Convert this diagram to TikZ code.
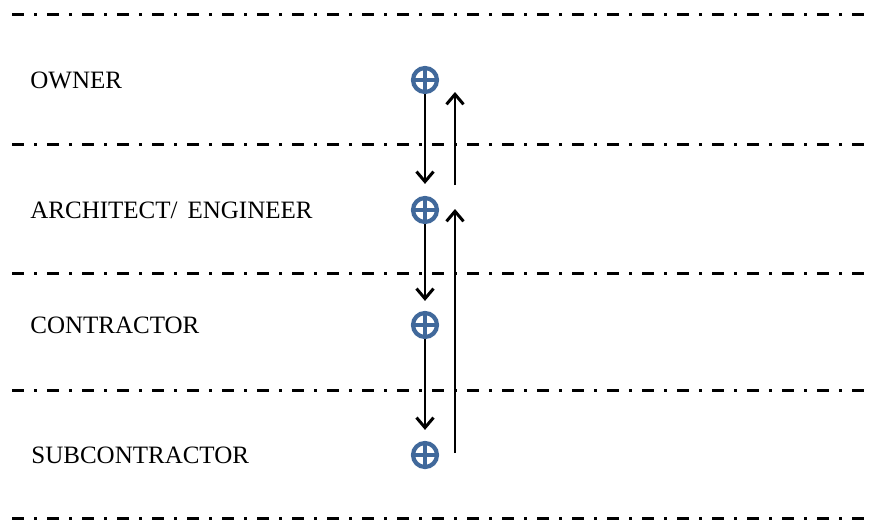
\documentclass[tikz,border=0pt]{standalone}
\usepackage{fontspec}
\setmainfont{Liberation Serif}
\usetikzlibrary{arrows.meta}
\definecolor{hubblue}{HTML}{41699B}

\begin{document}
\begin{tikzpicture}[
    x=0.5pt, y=-0.5pt,
    role/.style={anchor=base west, inner sep=0pt, font=\fontsize{12.5}{15}\selectfont},
    hub/.style={circle, draw=hubblue, line width=2.1pt, minimum size=12pt, inner sep=0pt, fill=white,
        path picture={\draw[hubblue, line width=1.7pt]
            (path picture bounding box.north) -- (path picture bounding box.south)
            (path picture bounding box.west) -- (path picture bounding box.east);}},
    level/.style={line width=1.5pt, dash pattern=on 6pt off 5pt on 1.5pt off 5pt},
    arrow/.style={-{Straight Barb[length=5pt, width=8.5pt, line width=1.5pt]}, line width=1.2pt}
]
\useasboundingbox (0,0) rectangle (873,521);

% Level separators
\foreach \y in {14,144,273,390,518}
    \draw[level] (12,\y) -- (873,\y);

% Roles
\node[role] (ownerlbl) at (30,88) {OWNER};
\node[role] (archlbl) at (30,218) {ARCHITECT/\hspace{5pt}ENGINEER};
\node[role] (contrlbl) at (30,333) {CONTRACTOR};
\node[role] (sublbl) at (31,463) {SUBCONTRACTOR};

% Hubs
\node[hub] (owner) at (425,80) {};
\node[hub] (arch) at (425,210) {};
\node[hub] (contr) at (425,325) {};
\node[hub] (sub) at (425,455) {};

% Instructions down the chain
\draw[arrow, shorten >=6pt] (owner.south) -- (arch.north);
\draw[arrow, shorten >=5pt] (arch.south) -- (contr.north);
\draw[arrow, shorten >=5.5pt] (contr.south) -- (sub.north);

% Feedback back up
\draw[arrow] ([xshift=15pt, yshift=12.5pt]arch.center) -- ([xshift=15pt, yshift=-6pt]owner.center);
\draw[arrow] ([xshift=15pt, yshift=1pt]sub.center) -- ([xshift=15pt, yshift=0.5pt]arch.center);

\end{tikzpicture}
\end{document}
